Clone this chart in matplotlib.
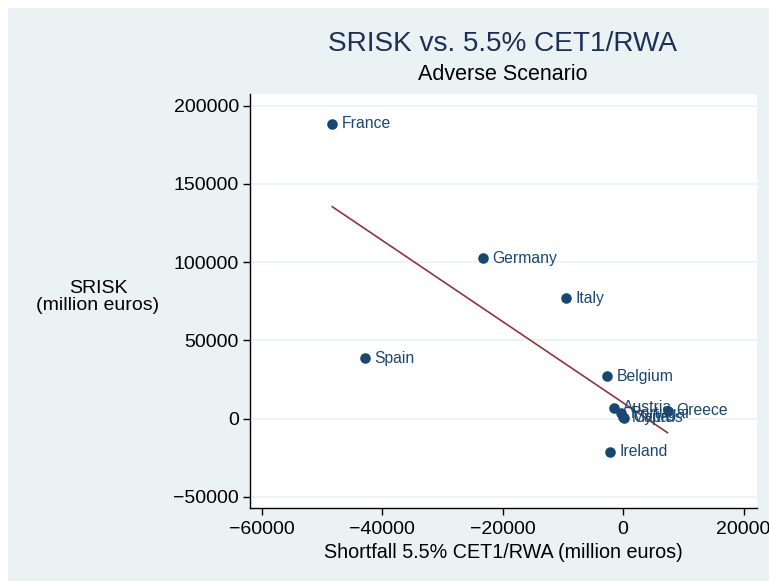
import numpy as np
import matplotlib
matplotlib.use("Agg")
import matplotlib.pyplot as plt
from matplotlib.patches import Rectangle

countries = ["France", "Germany", "Italy", "Spain", "Belgium", "Austria",
             "Greece", "Ireland", "Portugal", "Cyprus", "Malta"]
shortfall = [-48330, -23225, -9430, -42850, -2610, -1450,
             7370, -2110, -300, 200, 0]
srisk = [188460, 102560, 76920, 38460, 26920, 7050,
         5130, -21150, 3500, 400, 800]

xticks = [-60000, -40000, -20000, 0, 20000]
yticks = [-50000, 0, 50000, 100000, 150000, 200000]

plt.rcParams['font.family'] = ['Liberation Sans', 'DejaVu Sans']

BG = "#eaf2f3"
NAVY = "#1a476f"
MAROON = "#90353b"

fig = plt.figure(figsize=(7.69, 5.81), dpi=100, facecolor="white")
bg = fig.add_axes([0, 0, 1, 1], zorder=-5)
bg.set_axis_off()
bg.set_xlim(0, 1)
bg.set_ylim(0, 1)
bg.add_patch(Rectangle((8/769, 0), 1, 1 - 8/581, facecolor=BG, edgecolor="none"))

ax = fig.add_axes([250/769, 1 - 508/581, (757 - 250)/769, (508 - 94)/581], zorder=1)
ax.set_facecolor("white")

x = np.array(shortfall, dtype=float)
y = np.array(srisk, dtype=float)

ax.scatter(x, y, s=58, color=NAVY, zorder=3, linewidths=0)
for c, xi, yi in zip(countries, x, y):
    ax.annotate(c, (xi, yi), xytext=(6.5, 0), textcoords="offset points",
                va="center", ha="left", fontsize=11.3, color=NAVY, zorder=4)

b1, b0 = np.polyfit(x, y, 1)
xs = np.array([x.min(), x.max()])
ax.plot(xs, b0 + b1 * xs, color=MAROON, lw=1.2, zorder=2)

ax.set_xlim(-62000, 22240)
ax.set_ylim(-57200, 207500)
ax.set_xticks(xticks)
ax.set_yticks(yticks)
ax.set_xticklabels(["\u2212" + f"{-v}" if v < 0 else f"{v}" for v in xticks])
ax.set_yticklabels(["\u2212" + f"{-v}" if v < 0 else f"{v}" for v in yticks])
ax.tick_params(direction="out", length=5, width=1, labelsize=14)
ax.tick_params(axis="x", pad=4.5)
ax.tick_params(axis="y", pad=3)
ax.yaxis.grid(True, color=BG, lw=1.2)
ax.set_axisbelow(True)
for s in ["top", "right"]:
    ax.spines[s].set_visible(False)
for s in ["left", "bottom"]:
    ax.spines[s].set_linewidth(1)

ax.set_xlabel("Shortfall 5.5% CET1/RWA (million euros)", fontsize=14.2, labelpad=3.5)
fig.text(98/769, 1 - 297/581, "SRISK\n(million euros)", ha="center", va="center",
         fontsize=14, linespacing=1.0)

fig.text(503/769, 1 - 44/581, "SRISK vs. 5.5% CET1/RWA", ha="center", va="center",
         fontsize=20.2, color="#1e3057")
fig.text(503/769, 1 - 75/581, "Adverse Scenario", ha="center", va="center",
         fontsize=15.5, color="black")

fig.savefig("out.png", dpi=100, facecolor=fig.get_facecolor())
